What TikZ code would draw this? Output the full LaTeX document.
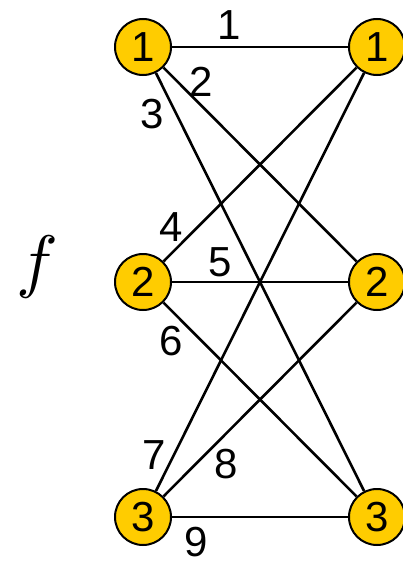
\documentclass[tikz,border=0pt]{standalone}
\usepackage{fontspec}
\setmainfont{Liberation Sans}
\usepackage{unicode-math}
\begin{document}
\begin{tikzpicture}[x=1pt,y=-1pt,
  vert/.style={circle,draw=black,line width=2pt,fill={rgb,255:red,255;green,204;blue,0},minimum size=56pt,inner sep=0pt,font=\fontsize{42}{42}\selectfont},
  edge/.style={line width=2.6pt,black},
  lab/.style={font=\fontsize{42}{42}\selectfont,inner sep=0pt}]
\useasboundingbox (0,0) rectangle (402,562);
\node[vert] (L1) at (143,47) {1};
\node[vert] (L2) at (143,282) {2};
\node[vert] (L3) at (143,517) {3};
\node[vert] (R1) at (377,47) {1};
\node[vert] (R2) at (377,282) {2};
\node[vert] (R3) at (377,517) {3};
\foreach \a in {1,2,3}{\foreach \b in {1,2,3}{\draw[edge] (L\a) -- (R\b);}}
\node[lab] (n1) at (229,25) {1};
\node[lab] (n2) at (201,82) {2};
\node[lab] (n3) at (152,114) {3};
\node[lab] (n4) at (171,227) {4};
\node[lab] (n5) at (220,262) {5};
\node[lab] (n6) at (171,341) {6};
\node[lab] (n7) at (154,455) {7};
\node[lab] (n8) at (226,464) {8};
\node[lab,anchor=south] (n9) at (196,557) {9};
\node[inner sep=0pt,font=\fontsize{70}{70}\selectfont] (f) at (37,267) {$f$};
\end{tikzpicture}
\end{document}
